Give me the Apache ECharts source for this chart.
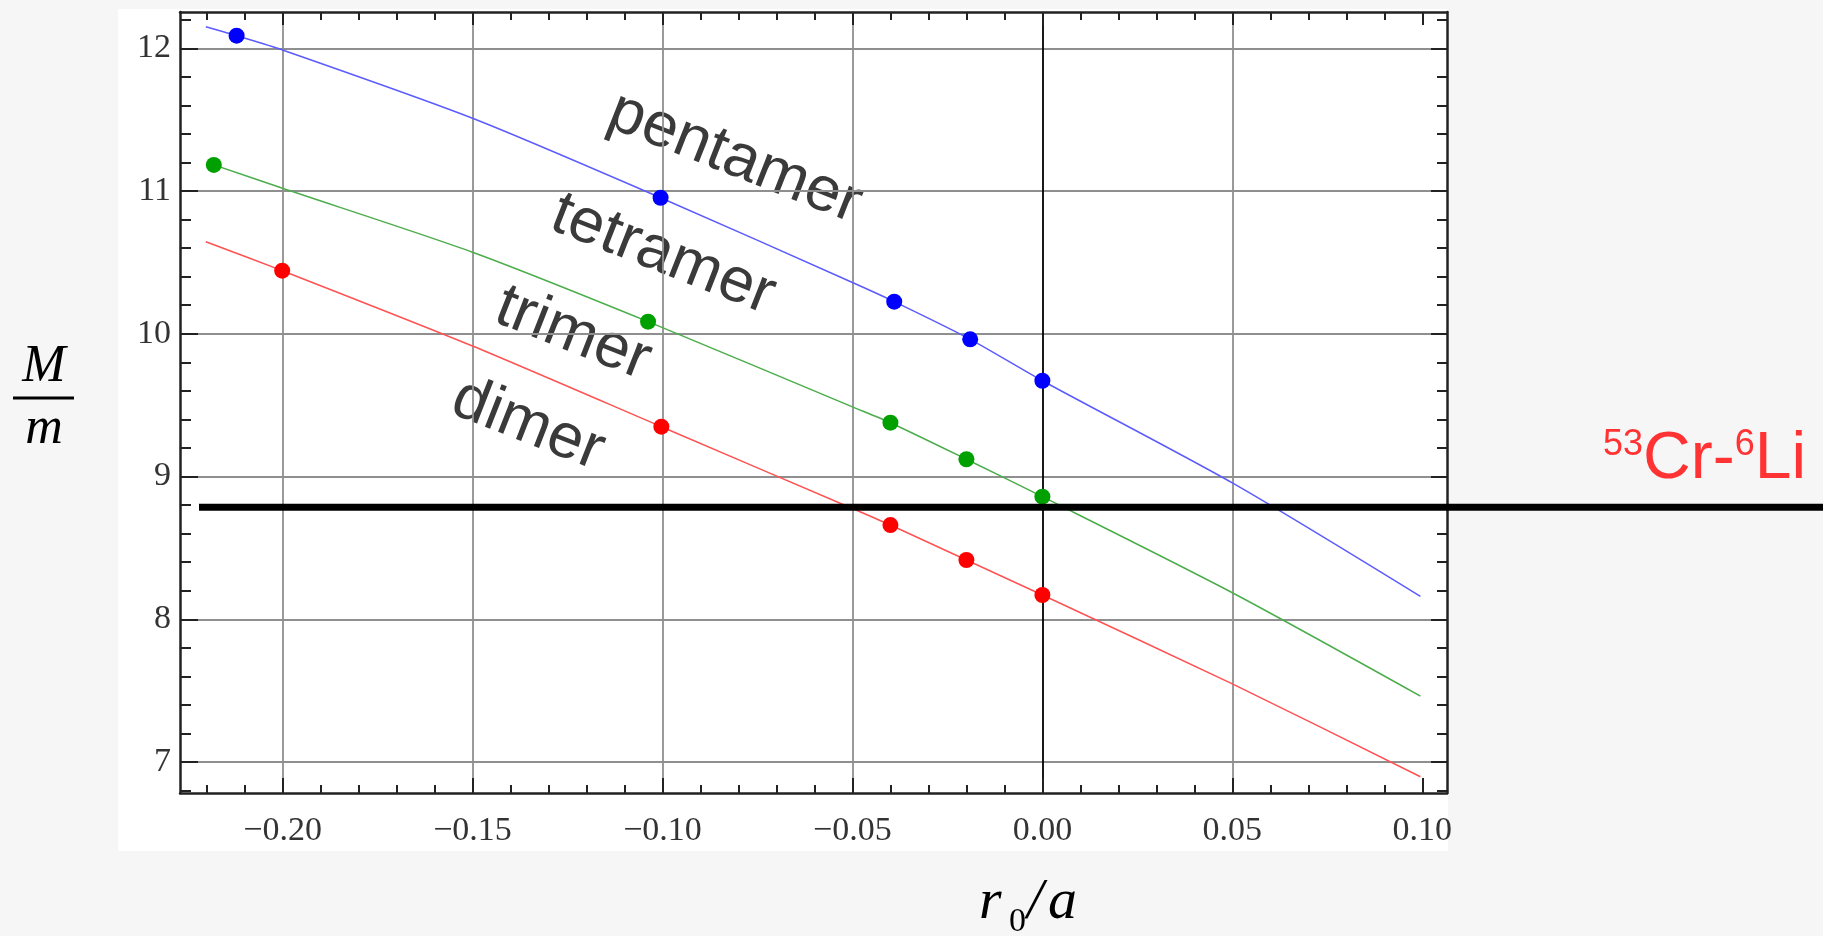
<!DOCTYPE html>
<html>
<head>
<meta charset="utf-8">
<title>M/m vs r0/a</title>
<script src="https://cdn.jsdelivr.net/npm/echarts@6/dist/echarts.min.js"></script>
<style>
  html, body { margin: 0; padding: 0; background: #f6f6f6; }
  #main { width: 1823px; height: 936px; }
</style>
</head>
<body>
<div id="main"></div>
<script>
// ---- values ----
const xTickValues = [-0.20, -0.15, -0.10, -0.05, 0.00, 0.05, 0.10]
const xGridValues = [-0.20, -0.15, -0.10, -0.05, 0.00, 0.05]
const yTickValues = [7, 8, 9, 10, 11, 12]

// the three curves, sampled along the drawn lines
const blueCurve = [[-0.2202, 12.151], [-0.2121, 12.088], [-0.20, 11.988], [-0.15, 11.510], [-0.1005, 10.953],
  [-0.05, 10.359], [-0.039, 10.225], [-0.019, 9.961], [0.00, 9.671], [0.05, 8.955], [0.0995, 8.160]]
const greenCurve = [[-0.2181, 11.183], [-0.20, 11.019], [-0.15, 10.571], [-0.1038, 10.085],
  [-0.05, 9.488], [-0.040, 9.377], [-0.020, 9.121], [0.00, 8.859], [0.05, 8.186], [0.0995, 7.462]]
const redCurve = [[-0.2202, 10.645], [-0.2001, 10.442], [-0.15, 9.914], [-0.1003, 9.349],
  [-0.05, 8.776], [-0.040, 8.660], [-0.020, 8.415], [0.00, 8.170], [0.05, 7.547], [0.0995, 6.897]]

// the computed points (dots)
const bluePoints = [[-0.2121, 12.088], [-0.1005, 10.953], [-0.039, 10.225], [-0.019, 9.961], [0.00, 9.671]]
const greenPoints = [[-0.2181, 11.183], [-0.1038, 10.085], [-0.040, 9.377], [-0.020, 9.121], [0.00, 8.859]]
const redPoints = [[-0.2001, 10.442], [-0.1003, 9.349], [-0.040, 8.660], [-0.020, 8.415], [0.00, 8.170]]

// 53Cr-6Li mass ratio
const crLiRatio = 8.784
const crLiStart = -0.222

const regionNames = ['pentamer', 'tetramer', 'trimer', 'dimer']

// ---- layout ----
const xMin = -0.227
const xMax = 0.1065
const yMin = 6.783
const yMax = 12.254
const plotLeft = 180
const plotRight = 1447
const plotTop = 12
const plotBottom = 793
// the mass ratio line runs past the frame up to the page edge, so it lives in a wider grid
const wideMax = xMin + (xMax - xMin) * (1823 - plotLeft) / (plotRight - plotLeft)

const regionPos = [[735, 158], [663, 255], [573, 334], [528, 425]]
const regionAngle = -21.5 * Math.PI / 180

const serif = '"Liberation Serif", "Times New Roman", serif'
const sans = '"Liberation Sans", Arial, sans-serif'
const frameColor = '#222'
const gridGray = '#8f8f8f'

function fmtX (v) {
  const s = Math.abs(v).toFixed(2)
  return v < -1e-9 ? '\u2212' + s : s
}

function frameX (position, tickLen, minorLen) {
  return {
    type: 'value',
    gridIndex: 0,
    position: position,
    min: xMin,
    max: xMax,
    axisLine: { show: true, onZero: false, lineStyle: { color: frameColor, width: 2.5 } },
    axisTick: { show: true, inside: true, length: tickLen, customValues: xTickValues, lineStyle: { color: frameColor, width: 2 } },
    minorTick: { show: true, splitNumber: 5, length: minorLen, lineStyle: { color: frameColor, width: 2 } },
    axisLabel: { show: false },
    splitLine: { show: false }
  }
}

function frameY (position, tickLen, minorLen) {
  return {
    type: 'value',
    gridIndex: 0,
    position: position,
    min: yMin,
    max: yMax,
    axisLine: { show: true, onZero: false, lineStyle: { color: frameColor, width: 2.5 } },
    axisTick: { show: true, inside: true, length: tickLen, customValues: yTickValues, lineStyle: { color: frameColor, width: 2 } },
    minorTick: { show: true, splitNumber: 5, length: minorLen, lineStyle: { color: frameColor, width: 2 } },
    axisLabel: { show: false },
    splitLine: { show: false }
  }
}

const xBottom = frameX('bottom', 15, 8)
xBottom.axisLabel = {
  show: true,
  customValues: xTickValues,
  margin: 21,
  fontFamily: serif,
  fontSize: 34,
  color: '#333',
  formatter: fmtX
}
const xTop = frameX('top', 13, 8)

const yLeft = frameY('left', 18, 11)
yLeft.axisLabel = {
  show: true,
  customValues: yTickValues,
  margin: 9,
  fontFamily: serif,
  fontSize: 34,
  color: '#333',
  formatter: v => String(v)
}
yLeft.splitLine = { show: true, lineStyle: { color: gridGray, width: 1.8 } }
const yRight = frameY('right', 16, 10)

// vertical grid lines only up to 0.05, the one through 0 is black
const xGridAxis = {
  type: 'value',
  gridIndex: 0,
  position: 'bottom',
  min: xMin,
  max: xMax,
  axisLine: { show: false, onZero: false },
  axisTick: { show: false, customValues: xGridValues },
  axisLabel: { show: false },
  splitLine: {
    show: true,
    lineStyle: { color: [gridGray, gridGray, gridGray, gridGray, '#000', gridGray], width: 1.8 }
  }
}

function curve (data, color) {
  return {
    type: 'line',
    xAxisIndex: 0,
    yAxisIndex: 0,
    data: data,
    smooth: 0.25,
    symbol: 'none',
    lineStyle: { color: color, width: 1.5 },
    z: 2
  }
}

function dots (data, color) {
  return {
    type: 'scatter',
    xAxisIndex: 0,
    yAxisIndex: 0,
    data: data,
    symbolSize: 16,
    itemStyle: { color: color, opacity: 1 },
    z: 3
  }
}

function label (text, x, y, font, align) {
  return {
    type: 'text', x: x, y: y, silent: true,
    style: { text: text, font: font, fill: '#000', align: align || 'left', verticalAlign: 'middle' }
  }
}

const italic = 'italic 58px ' + serif

const graphics = [
  {
    type: 'rect',
    z: -100,
    silent: true,
    shape: { x: 118, y: 9, width: 1330, height: 842 },
    style: { fill: '#fff' }
  },
  // M/m
  label('M', 44, 367, 'italic 52px ' + serif, 'center'),
  {
    type: 'line', silent: true,
    shape: { x1: 13, y1: 398, x2: 74, y2: 398 },
    style: { stroke: '#000', lineWidth: 3 }
  },
  label('m', 44, 429, 'italic 52px ' + serif, 'center'),
  // r0/a
  label('r', 979, 903, italic),
  label('0', 1009, 922, '34px ' + serif),
  label('/', 1027, 903, italic),
  label('a', 1048, 903, italic),
  // 53Cr-6Li
  {
    type: 'text', x: 1603, y: 427, silent: true,
    style: {
      text: '{s|53}{m|Cr-}{s|6}{m|Li}',
      align: 'left',
      verticalAlign: 'top',
      rich: {
        m: { fontSize: 66, fontFamily: sans, fill: '#f33' },
        s: { fontSize: 36, fontFamily: sans, fill: '#f33', lineHeight: 19, verticalAlign: 'top' }
      }
    }
  }
]

regionNames.forEach((name, i) => {
  graphics.push({
    type: 'text',
    x: regionPos[i][0],
    y: regionPos[i][1],
    rotation: regionAngle,
    silent: true,
    style: { text: name, fontSize: 63, fontFamily: sans, fill: '#3a3a3a', align: 'center', verticalAlign: 'middle' }
  })
})

const option = {
  backgroundColor: '#f6f6f6',
  animation: false,
  grid: [
    { left: plotLeft, top: plotTop, right: 1823 - plotRight, bottom: 936 - plotBottom, outerBoundsMode: 'none', containLabel: false },
    { left: plotLeft, top: plotTop, right: 0, bottom: 936 - plotBottom, outerBoundsMode: 'none', containLabel: false }
  ],
  xAxis: [
    xBottom,
    xTop,
    xGridAxis,
    { type: 'value', gridIndex: 1, min: xMin, max: wideMax, show: false }
  ],
  yAxis: [
    yLeft,
    yRight,
    { type: 'value', gridIndex: 1, min: yMin, max: yMax, show: false }
  ],
  series: [
    curve(blueCurve, '#5b5bff'),
    curve(greenCurve, '#4cad4c'),
    curve(redCurve, '#ff5252'),
    dots(bluePoints, '#0000ff'),
    dots(greenPoints, '#00a000'),
    dots(redPoints, '#ff0000'),
    {
      type: 'line',
      xAxisIndex: 3,
      yAxisIndex: 2,
      data: [[crLiStart, crLiRatio], [wideMax, crLiRatio]],
      symbol: 'none',
      lineStyle: { color: '#000', width: 7 },
      z: 5
    }
  ],
  graphic: graphics
}

const myChart = echarts.init(document.getElementById('main'))
myChart.setOption(option)
</script>
</body>
</html>
